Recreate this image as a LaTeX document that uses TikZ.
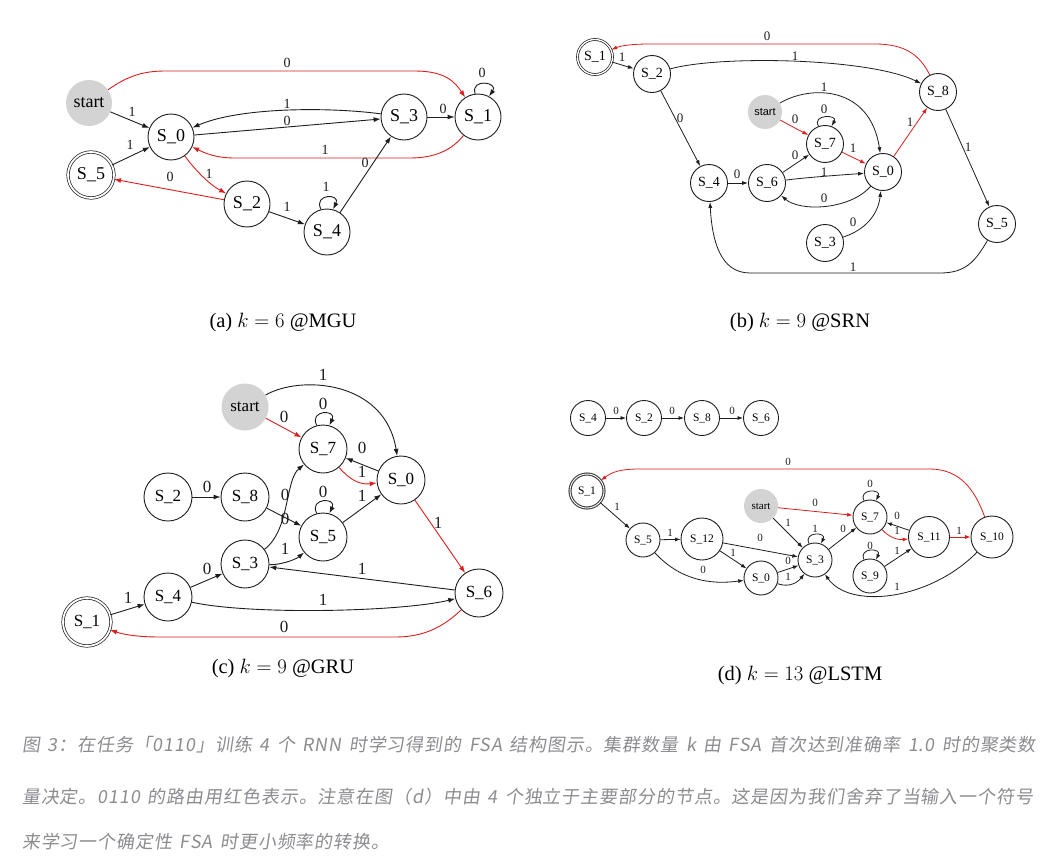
\documentclass[tikz,border=0pt]{standalone}
\usepackage{fontspec}
\setmainfont{Liberation Serif}
\newfontfamily\cjk[FakeSlant=0.15, LetterSpace=5, WordSpace=1.5]{Noto Sans CJK SC}
\newfontfamily\sanslab{Liberation Sans}
\usetikzlibrary{arrows.meta}
\definecolor{redc}{RGB}{220,30,30}
\definecolor{startgray}{RGB}{211,211,211}
\definecolor{capgray}{RGB}{140,140,145}
\definecolor{edgec}{RGB}{30,30,30}
\tikzset{
  fsa/.style={circle, draw=edgec, line width=0.9pt, inner sep=0pt},
  acc/.style={fsa, double, double distance=1.8pt, line width=0.7pt},
  begin/.style={circle, fill=startgray, inner sep=0pt},
  tr/.style={draw=edgec, line width=0.9pt, -{Latex[length=7pt,width=5pt]}},
  trr/.style={tr, draw=redc},
  lbl/.style={inner sep=0pt, text=edgec},
  subcap/.style={font=\fontsize{20.5}{20.5}\selectfont, inner sep=0pt},
  capline/.style={anchor=west, inner sep=0pt, text=capgray, font=\cjk\fontsize{18}{18}\selectfont}
}
\begin{document}
\begin{tikzpicture}[x=1pt,y=-1pt]
\useasboundingbox[fill=white] (0,0) rectangle (1049,867);

% ---------------- panel (a)
\begin{scope}[fsa/.append style={minimum size=46pt,font=\fontsize{18}{18}\selectfont},
  begin/.append style={minimum size=46pt,font=\fontsize{18}{18}\selectfont},
  lbl/.append style={font=\fontsize{14}{14}\selectfont}]
\node[begin] (astart) at (89,103) {start};
\node[fsa] (aS0) at (171,137) {S\_0};
\node[fsa] (aS3) at (404,117) {S\_3};
\node[fsa] (aS1) at (478,117) {S\_1};
\node[acc] (aS5) at (91,175) {S\_5};
\node[fsa] (aS2) at (247,204) {S\_2};
\node[fsa] (aS4) at (327,232) {S\_4};
\draw[trr] (astart) .. controls (125,78) and (140,71) .. (165,71) -- (415,71) .. controls (445,71) and (455,82) .. (aS1);
\draw[tr] (astart) -- (aS0);
\draw[tr] (aS5) -- (aS0);
\draw[tr] (aS3) .. controls (330,107) and (240,107) .. (aS0);
\draw[tr] (aS0) -- (aS3);
\draw[tr] (aS3) -- (aS1);
\draw[trr] (aS1) .. controls (452,150) and (435,158) .. (410,158) -- (235,158) .. controls (215,158) and (205,153) .. (aS0);
\draw[trr] (aS0) .. controls (195,170) and (210,185) .. (aS2);
\draw[trr] (aS2) -- (aS5);
\draw[tr] (aS2) -- (aS4);
\draw[tr] (aS4.105) .. controls +(-8,-16) and +(8,-16) .. (aS4.75);
\draw[tr] (aS4) -- (aS3);
\draw[tr] (aS1.97) .. controls +(-5,-16) and +(10,-14) .. (aS1.62);
\node[lbl] (la1) at (287,63) {0};
\node[lbl] (la2) at (132,112) {1};
\node[lbl] (la3) at (130,145) {1};
\node[lbl] (la4) at (287,104) {1};
\node[lbl] (la5) at (287,121) {0};
\node[lbl] (la6) at (443,109) {0};
\node[lbl] (la7) at (325,150) {1};
\node[lbl] (la8) at (209,174) {1};
\node[lbl] (la9) at (170,177) {0};
\node[lbl] (la10) at (287,207) {1};
\node[lbl] (la11) at (326,187) {1};
\node[lbl] (la12) at (365,163) {0};
\node[lbl] (la13) at (482,73) {0};
\end{scope}
\node[subcap] (capa) at (283,322) {(a) $k=6$ @MGU};

% ---------------- panel (b)
\begin{scope}[fsa/.append style={minimum size=37pt,font=\fontsize{14}{14}\selectfont},
  acc/.append style={minimum size=35pt, double distance=1.3pt},
  begin/.append style={minimum size=34pt,font=\sanslab\fontsize{11}{11}\selectfont},
  lbl/.append style={font=\fontsize{13}{13}\selectfont},
  tr/.append style={line width=0.8pt,-{Latex[length=6pt,width=4pt]}}]
\node[acc] (bS1) at (595,57) {S\_1};
\node[fsa] (bS2) at (652,74) {S\_2};
\node[fsa] (bS8) at (938,92) {S\_8};
\node[begin] (bstart) at (765,112) {start};
\node[fsa] (bS7) at (825,144) {S\_7};
\node[fsa] (bS0) at (883,172) {S\_0};
\node[fsa] (bS4) at (709,183) {S\_4};
\node[fsa] (bS6) at (767,183) {S\_6};
\node[fsa] (bS5) at (997,224) {S\_5};
\node[fsa] (bS3) at (825,243) {S\_3};
\draw[trr] (bS8) .. controls (920,55) and (905,44) .. (875,44) -- (650,44) .. controls (630,44) and (620,46) .. (bS1);
\draw[tr] (bS1) -- (bS2);
\draw[tr] (bS2) .. controls (720,55) and (870,58) .. (bS8);
\draw[tr] (bstart) .. controls (810,85) and (870,85) .. (bS0);
\draw[trr] (bstart) -- (bS7);
\draw[tr] (bS7.110) .. controls +(-7,-12) and +(7,-12) .. (bS7.70);
\draw[trr] (bS7) -- (bS0);
\draw[trr] (bS0) -- (bS8);
\draw[tr] (bS2) -- (bS4);
\draw[tr] (bS4) -- (bS6);
\draw[tr] (bS6) -- (bS7);
\draw[tr] (bS6) .. controls (800,178) and (840,175) .. (bS0);
\draw[tr] (bS0) .. controls (850,210) and (800,212) .. (bS6);
\draw[tr] (bS3) .. controls (865,230) and (878,215) .. (bS0);
\draw[tr] (bS8) -- (bS5);
\draw[tr] (bS5) .. controls (975,262) and (965,273) .. (940,273) -- (750,273) .. controls (720,273) and (712,240) .. (bS4);
\node[lbl] (lb1) at (767,36) {0};
\node[lbl] (lb2) at (622,57) {1};
\node[lbl] (lb3) at (795,56) {1};
\node[lbl] (lb4) at (824,87) {1};
\node[lbl] (lb5) at (795,119) {0};
\node[lbl] (lb6) at (824,109) {0};
\node[lbl] (lb7) at (853,148) {1};
\node[lbl] (lb8) at (910,122) {1};
\node[lbl] (lb9) at (680,118) {0};
\node[lbl] (lb10) at (737,174) {0};
\node[lbl] (lb11) at (795,155) {0};
\node[lbl] (lb12) at (824,172) {1};
\node[lbl] (lb13) at (824,198) {0};
\node[lbl] (lb14) at (853,222) {0};
\node[lbl] (lb15) at (968,147) {1};
\node[lbl] (lb16) at (853,267) {1};
\end{scope}
\node[subcap] (capb) at (800,322) {(b) $k=9$ @SRN};

% ---------------- panel (c)
\begin{scope}[fsa/.append style={minimum size=48pt,font=\fontsize{17}{17}\selectfont},
  begin/.append style={minimum size=47pt,font=\fontsize{17}{17}\selectfont},
  lbl/.append style={font=\fontsize{17}{17}\selectfont}]
\node[begin] (cstart) at (245,407) {start};
\node[fsa] (cS7) at (323,449) {S\_7};
\node[fsa] (cS0) at (401,480) {S\_0};
\node[fsa] (cS2) at (168,497) {S\_2};
\node[fsa] (cS8) at (245,497) {S\_8};
\node[fsa] (cS5) at (323,537) {S\_5};
\node[fsa] (cS3) at (245,564) {S\_3};
\node[fsa] (cS4) at (168,597) {S\_4};
\node[fsa] (cS6) at (479,593) {S\_6};
\node[acc] (cS1) at (87,622) {S\_1};
\draw[tr] (cstart) .. controls (300,375) and (385,380) .. (cS0);
\draw[trr] (cstart) -- (cS7);
\draw[tr] (cS7.105) .. controls +(-8,-16) and +(8,-16) .. (cS7.75);
\draw[tr] (cS0) -- (cS7);
\draw[trr] (cS7) .. controls (350,480) and (360,485) .. (cS0);
\draw[tr] (cS2) -- (cS8);
\draw[tr] (cS8) -- (cS5);
\draw[tr] (cS5.105) .. controls +(-8,-16) and +(8,-16) .. (cS5.75);
\draw[tr] (cS5) -- (cS0);
\draw[tr] (cS3) .. controls (290,530) and (285,480) .. (cS7);
\draw[tr] (cS3) .. controls (280,565) and (295,560) .. (cS5);
\draw[tr] (cS4) -- (cS3);
\draw[tr] (cS6) -- (cS3);
\draw[tr] (cS1) -- (cS4);
\draw[tr] (cS4) .. controls (250,615) and (400,612) .. (cS6);
\draw[trr] (cS0) -- (cS6);
\draw[trr] (cS6) .. controls (440,630) and (420,637) .. (395,637) -- (160,637) .. controls (140,637) and (125,635) .. (cS1);
\node[lbl] (lc1) at (323,375) {1};
\node[lbl] (lc2) at (284,417) {0};
\node[lbl] (lc3) at (323,404) {0};
\node[lbl] (lc4) at (362,448) {0};
\node[lbl] (lc5) at (362,472) {1};
\node[lbl] (lc6) at (207,487) {0};
\node[lbl] (lc7) at (285,495) {0};
\node[lbl] (lc8) at (323,492) {0};
\node[lbl] (lc9) at (362,496) {1};
\node[lbl] (lc10) at (285,519) {0};
\node[lbl] (lc11) at (285,549) {1};
\node[lbl] (lc12) at (207,569) {0};
\node[lbl] (lc13) at (362,569) {1};
\node[lbl] (lc14) at (128,598) {1};
\node[lbl] (lc15) at (323,600) {1};
\node[lbl] (lc16) at (438,523) {1};
\node[lbl] (lc17) at (284,627) {0};
\end{scope}
\node[subcap] (capc) at (283,668) {(c) $k=9$ @GRU};

% ---------------- panel (d)
\begin{scope}[fsa/.append style={minimum size=34pt,font=\fontsize{11.5}{11.5}\selectfont},
  begin/.append style={minimum size=34pt,font=\fontsize{11}{11}\selectfont},
  lbl/.append style={font=\fontsize{11}{11}\selectfont},
  tr/.append style={line width=0.8pt,-{Latex[length=5.5pt,width=4pt]}},
  thickacc/.style={fsa, double, double distance=0.9pt, line width=1.1pt, draw=black!75}]
\node[fsa, minimum size=35pt] (dT4) at (588,418) {S\_4};
\node[fsa, minimum size=35pt] (dT2) at (644,418) {S\_2};
\node[fsa, minimum size=35pt] (dT8) at (702,418) {S\_8};
\node[fsa, minimum size=35pt] (dT6) at (761,418) {S\_6};
\draw[tr] (dT4) -- (dT2);
\draw[tr] (dT2) -- (dT8);
\draw[tr] (dT8) -- (dT6);
\node[lbl] (ldt1) at (616,411) {0};
\node[lbl] (ldt2) at (672,411) {0};
\node[lbl] (ldt3) at (732,411) {0};
\node[thickacc] (dS1) at (587,491) {S\_1};
\node[begin] (dstart) at (761,506) {start};
\node[fsa] (dS5) at (643,540) {S\_5};
\node[fsa, minimum size=42pt] (dS12) at (702,539) {S\_12};
\node[fsa] (dS3) at (815,560) {S\_3};
\node[fsa] (dS0) at (761,578) {S\_0};
\node[fsa] (dS7) at (870,517) {S\_7};
\node[fsa] (dS9) at (870,576) {S\_9};
\node[fsa, minimum size=41pt] (dS11) at (929,537) {S\_11};
\node[fsa, minimum size=42pt] (dS10) at (992,537) {S\_10};
\draw[trr] (dS10) .. controls (975,490) and (960,469) .. (930,469) -- (640,469) .. controls (620,469) and (612,472) .. (dS1);
\draw[tr] (dS1) -- (dS5);
\draw[trr] (dstart) -- (dS7);
\draw[tr] (dstart) -- (dS3);
\draw[tr] (dS3.110) .. controls +(-6,-12) and +(6,-12) .. (dS3.70);
\draw[tr] (dS5) -- (dS12);
\draw[tr] (dS12) -- (dS3);
\draw[tr] (dS12) -- (dS0);
\draw[tr] (dS5) .. controls (680,580) and (710,585) .. (dS0);
\draw[tr] (dS0) -- (dS3);
\draw[tr] (dS0) .. controls (790,588) and (798,582) .. (dS3);
\draw[tr] (dS3) -- (dS7);
\draw[tr] (dS7.110) .. controls +(-6,-12) and +(6,-12) .. (dS7.70);
\draw[tr] (dS11) -- (dS7);
\draw[trr] (dS7) .. controls (890,538) and (898,540) .. (dS11);
\draw[tr] (dS9.110) .. controls +(-6,-12) and +(6,-12) .. (dS9.70);
\draw[tr] (dS9) -- (dS11);
\draw[trr] (dS11) -- (dS10);
\draw[tr] (dS10) .. controls (930,600) and (850,610) .. (dS3);
\node[lbl] (ld1) at (788,462) {0};
\node[lbl] (ld2) at (617,507) {1};
\node[lbl] (ld3) at (815,503) {0};
\node[lbl] (ld4) at (788,523) {1};
\node[lbl] (ld5) at (815,529) {1};
\node[lbl] (ld6) at (670,533) {1};
\node[lbl] (ld7) at (760,538) {0};
\node[lbl] (ld8) at (733,553) {1};
\node[lbl] (ld9) at (703,570) {0};
\node[lbl] (ld10) at (788,561) {0};
\node[lbl] (ld11) at (788,577) {1};
\node[lbl] (ld12) at (843,529) {0};
\node[lbl] (ld13) at (870,484) {0};
\node[lbl] (ld14) at (897,516) {0};
\node[lbl] (ld15) at (897,531) {1};
\node[lbl] (ld16) at (870,546) {0};
\node[lbl] (ld17) at (897,551) {1};
\node[lbl] (ld18) at (959,531) {1};
\node[lbl] (ld19) at (897,587) {1};
\end{scope}
\node[subcap] (capd) at (800,675) {(d) $k=13$ @LSTM};

% ---------------- caption
\node[capline] (cap1) at (22,745) {图 3：在任务「0110」训练 4 个 RNN 时学习得到的 FSA 结构图示。集群数量 k 由 FSA 首次达到准确率 1.0 时的聚类数};
\node[capline] (cap2) at (22,797) {量决定。0110 的路由用红色表示。注意在图（d）中由 4 个独立于主要部分的节点。这是因为我们舍弃了当输入一个符号};
\node[capline] (cap3) at (22,842) {来学习一个确定性 FSA 时更小频率的转换。};
\end{tikzpicture}
\end{document}
